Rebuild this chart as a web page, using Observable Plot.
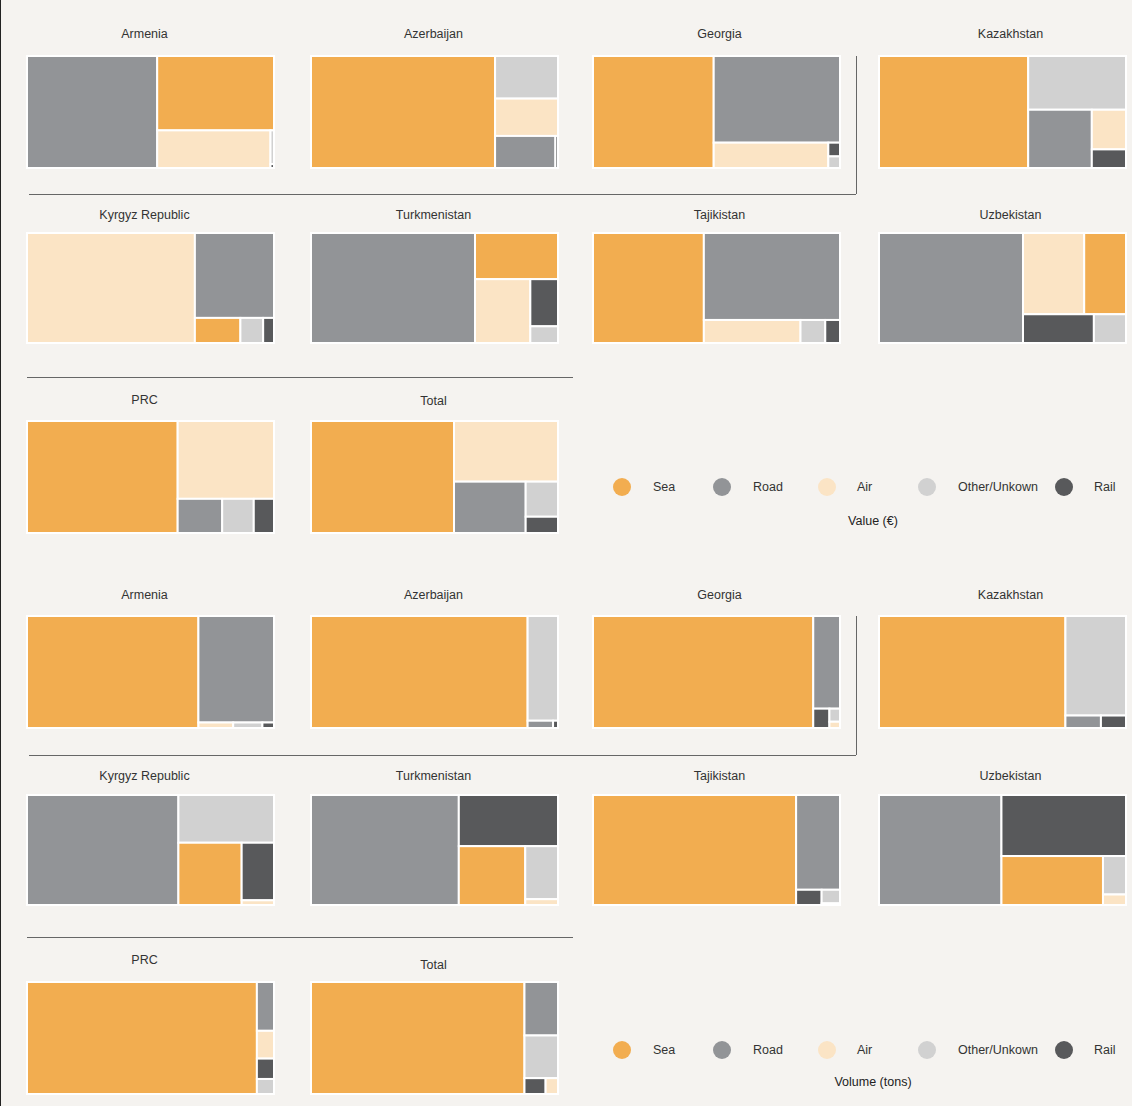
<!DOCTYPE html>
<html>
<head>
<meta charset="utf-8">
<script src="https://cdn.jsdelivr.net/npm/d3@7"></script>
<script src="https://cdn.jsdelivr.net/npm/@observablehq/plot@0.6"></script>
<style>
  html, body { margin: 0; padding: 0; background: #f5f3f0; }
  #root { position: relative; width: 1132px; height: 1106px; overflow: hidden; background: #f5f3f0;
          font-family: "Liberation Sans", Arial, Helvetica, sans-serif; color: #333; border-left: 1px solid #222; box-sizing: border-box; }
  .title { position: absolute; text-align: center; font-size: 12.5px; line-height: 16px; color: #333; white-space: nowrap; }
  .chart { position: absolute; }
  .hline { position: absolute; height: 0; border-top: 1px solid #666; }
  .vline { position: absolute; width: 0; border-left: 1px solid #666; }
  .lg-dot { position: absolute; width: 18px; height: 18px; border-radius: 50%; }
  .lg-txt { position: absolute; font-size: 12.5px; line-height: 16px; color: #333; white-space: nowrap; }
  .lg-cap { position: absolute; font-size: 12.5px; line-height: 16px; color: #222; text-align: center; white-space: nowrap; }
</style>
</head>
<body>
<div id="root"></div>
<script>
// ---------------- data ----------------
const modes = ["Sea", "Road", "Air", "Other/Unkown", "Rail"];
const modeColors = ["#f2ad50", "#929497", "#fbe4c5", "#d1d1d1", "#58595b"];
const countries = ["Armenia", "Azerbaijan", "Georgia", "Kazakhstan",
                   "Kyrgyz Republic", "Turkmenistan", "Tajikistan", "Uzbekistan",
                   "PRC", "Total"];

// Share of trade value (€), % per transport mode
const valueSea   = [31.4, 74.6, 48.9, 60.4,  4.2, 14.1, 44.9, 12.5, 61.0, 57.9];
const valueRoad  = [52.7,  7.0, 39.6, 13.4, 24.7, 66.4, 43.6, 58.3,  5.5, 13.3];
const valueAir   = [15.4,  8.5, 10.5,  4.9, 67.9, 13.0,  8.2, 18.3, 27.1, 22.8];
const valueOther = [0.43,  9.7, 0.49, 19.0,  2.1,  1.7,  2.1,  3.4,  3.9,  4.1];
const valueRail  = [0.05,  0.3, 0.58,  2.3,  1.0,  4.8, 1.25,  7.5,  2.5,  1.9];

// Share of trade volume (tons), % per transport mode
const volumeSea   = [69.4, 87.7, 89.2, 75.5, 14.5, 14.4, 82.2, 18.3, 93.1, 86.4];
const volumeRoad  = [29.1, 0.67, 8.96,  1.6, 61.3, 59.9, 15.3, 49.6, 3.02, 6.48];
const volumeAir   = [0.69,    0, 0.24,    0, 0.56,  0.7, 0.11, 0.89, 1.72, 0.71];
const volumeOther = [0.58, 11.5, 0.50, 21.8, 16.8,  6.4, 0.92, 3.26, 0.93, 5.17];
const volumeRail  = [0.23, 0.13, 1.13, 1.13, 6.85, 18.7, 1.43, 28.0, 1.26, 1.21];

const measures = [
  {caption: "Value (\u20ac)",  series: [valueSea, valueRoad, valueAir, valueOther, valueRail]},
  {caption: "Volume (tons)", series: [volumeSea, volumeRoad, volumeAir, volumeOther, volumeRail]}
];

// ---------------- layout (positions / sizes) ----------------
const colLeft = [26, 310, 592, 878];
const titleDx = [-6, -1, 3, 8];
const panelW = 247;
const blocks = [
  {rowTop: [56, 233, 421], rowH: [112, 110, 112], titleY: [34, 215, 400], legendY: 487, capY: 521,
   hline1: {y: 194, x1: 28, x2: 855}, vline: {x: 855, y1: 56, y2: 194}, hline2: {y: 377, x1: 26, x2: 572}},
  {rowTop: [616, 795, 982], rowH: [112, 110, 112], titleY: [595, 776, 960], legendY: 1050, capY: 1082,
   hline1: {y: 755, x1: 28, x2: 855}, vline: {x: 855, y1: 616, y2: 755}, hline2: {y: 937, x1: 26, x2: 572}}
];
const titleShift = {0: {9: 1}, 1: {9: 5}};
const legendDotX = [621, 721, 826, 926, 1063];
const legendTxtX = [652, 752, 856, 957, 1093];
const legendCapX = 872;

// treemap layout space (aspect used for the squarified tiling)
const LW = 178, LH = 100;

function cells(series, ci) {
  const leaves = modes.map((m, k) => ({mode: m, value: series[k][ci]})).filter(d => d.value > 0);
  const root = d3.hierarchy({children: leaves})
    .sum(d => d.value)
    .sort((a, b) => b.value - a.value);
  d3.treemap().tile(d3.treemapSquarify.ratio(1.23)).size([LW, LH]).round(false)(root);
  return root.leaves().map(l => ({mode: l.data.mode, value: l.data.value, x1: l.x0, x2: l.x1, y1: l.y0, y2: l.y1}));
}

const rootEl = document.getElementById("root");
function el(cls, css, text) {
  const d = document.createElement("div");
  d.className = cls;
  Object.assign(d.style, css);
  if (text != null) d.textContent = text;
  rootEl.appendChild(d);
  return d;
}

measures.forEach((m, bi) => {
  const b = blocks[bi];
  countries.forEach((name, ci) => {
    const row = Math.floor(ci / 4), col = ci % 4;
    const left = colLeft[col], top = b.rowTop[row], h = b.rowH[row];
    const ty = b.titleY[row] + ((titleShift[bi] || {})[ci] || 0);
    el("title", {left: (left + titleDx[col]) + "px", width: panelW + "px", top: (ty - 8) + "px"}, name);
    const chart = Plot.plot({
      width: panelW, height: h,
      marginTop: 0, marginRight: 0, marginBottom: 0, marginLeft: 0,
      style: {background: "transparent", overflow: "visible"},
      x: {domain: [0, LW], range: [0, panelW], axis: null},
      y: {domain: [0, LH], range: [0, h], axis: null},
      color: {domain: modes, range: modeColors},
      marks: [
        Plot.rect(cells(m.series, ci), {x1: "x1", x2: "x2", y1: "y1", y2: "y2", fill: "mode",
          stroke: "#ffffff", strokeWidth: 2, title: d => `${d.mode}: ${d.value}%`})
      ]
    });
    chart.classList.add("chart");
    chart.style.left = left + "px";
    chart.style.top = top + "px";
    rootEl.appendChild(chart);
  });
  // divider lines
  el("hline", {left: b.hline1.x1 + "px", width: (b.hline1.x2 - b.hline1.x1) + "px", top: b.hline1.y + "px"});
  el("vline", {left: b.vline.x + "px", top: b.vline.y1 + "px", height: (b.vline.y2 - b.vline.y1) + "px"});
  el("hline", {left: b.hline2.x1 + "px", width: (b.hline2.x2 - b.hline2.x1) + "px", top: b.hline2.y + "px"});
  // legend
  modes.forEach((mode, k) => {
    el("lg-dot", {left: (legendDotX[k] - 9) + "px", top: (b.legendY - 9) + "px", background: modeColors[k]});
    el("lg-txt", {left: legendTxtX[k] + "px", top: (b.legendY - 8) + "px"}, mode);
  });
  el("lg-cap", {left: (legendCapX - 100) + "px", width: "200px", top: (b.capY - 8) + "px"}, m.caption);
});
</script>
</body>
</html>
